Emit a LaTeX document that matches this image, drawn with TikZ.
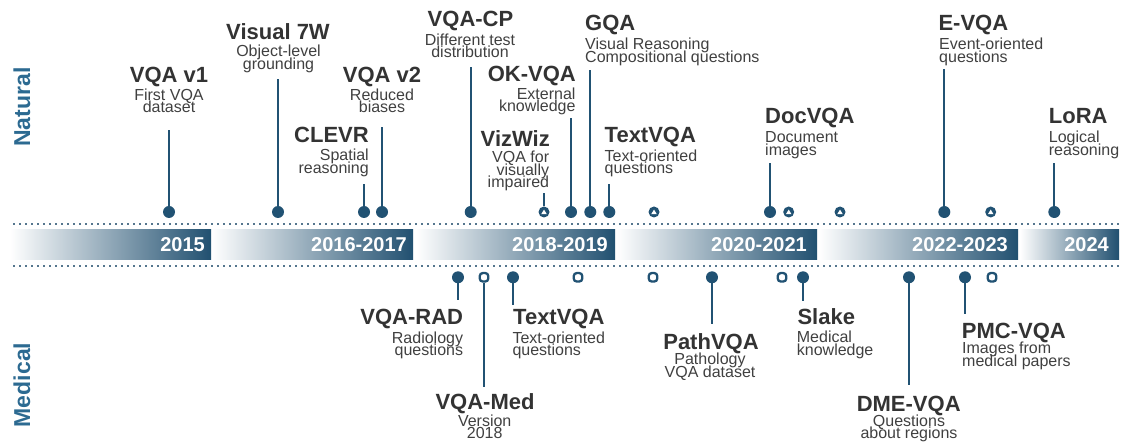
\documentclass[tikz,border=0pt]{standalone}
\usepackage{fontspec}
\setmainfont{Liberation Sans}
\definecolor{markblue}{RGB}{33,82,115}
\definecolor{barend}{RGB}{33,80,112}
\definecolor{sideblue}{RGB}{44,106,145}
\definecolor{ttlc}{RGB}{51,51,51}
\definecolor{dscc}{RGB}{64,64,64}
\definecolor{dotc}{RGB}{85,118,142}
\tikzset{
  ttl/.style={font=\fontsize{22}{22}\selectfont\bfseries, text=ttlc, inner sep=0pt},
  % descriptions: the base anchor sits on the last line, one line is 12.5pt
  dsc/.style={font=\fontsize{16}{12.5}\selectfont, text=dscc, inner sep=0pt},
  stem/.style={draw=markblue, line width=2pt},
  mdot/.style={circle, fill=markblue, inner sep=0pt, minimum size=12pt},
  mtri/.style={circle, fill=markblue, inner sep=0pt, minimum size=11pt,
    path picture={\fill[white] ([shift={(-2.8pt,-2.2pt)}]path picture bounding box.center)
      -- ++(5.6pt,0pt) -- ++(-2.8pt,4.6pt) -- cycle;}},
  msq/.style={rectangle, rounded corners=3pt, draw=markblue, line width=2.3pt, fill=white,
    inner sep=0pt, minimum size=8.5pt},
  yr/.style={font=\fontsize{20}{20}\selectfont\bfseries, text=white, inner sep=0pt, anchor=base east},
  sidelabel/.style={font=\fontsize{23}{23}\selectfont\bfseries, text=sideblue, rotate=90, inner sep=0pt},
  dotline/.style={draw=dotc, line width=1.8pt, dash pattern=on 1.8pt off 4.2pt},
  seg/.style={left color=white, right color=barend},
}
\begin{document}
\lineskiplimit=-50pt
\lineskip=0pt
\begin{tikzpicture}[x=1pt, y=-1pt]
\useasboundingbox (0,0) rectangle (1125,443);

% dotted guide lines
\coordinate (dla) at (13,224);
\coordinate (dlb) at (1120,224);
\coordinate (dlc) at (13,266);
\coordinate (dld) at (1120,266);
\draw[dotline] (dla) -- (dlb);
\draw[dotline] (dlc) -- (dld);

% period bar
\shade[seg] (10,230) rectangle (211,260);
\shade[seg] (212,230) rectangle (413,260);
\shade[seg] (416,230) rectangle (615,260);
\shade[seg] (617,230) rectangle (817,260);
\shade[seg] (819,230) rectangle (1018,260);
\shade[seg] (1020,230) rectangle (1119,260);
\node[yr] (ya) at (205,252) {2015};
\node[yr] (yb) at (407,252) {2016-2017};
\node[yr] (yc) at (608,252) {2018-2019};
\node[yr] (yd) at (807,252) {2020-2021};
\node[yr] (ye) at (1008,252) {2022-2023};
\node[yr] (yf) at (1109,252) {2024};

% side labels
\node[sidelabel] (nat) at (22,107) {Natural};
\node[sidelabel] (med) at (22,385) {Medical};

% ---------- natural-image datasets ----------
\node[ttl, anchor=base] (vaT) at (169,83) {VQA v1};
\node[dsc, anchor=base, align=center] (vaD) at (169,113) {First VQA\\dataset};
\coordinate (vaE) at (169,130);
\node[mdot] (vaM) at (169,212) {};

\node[ttl, anchor=base] (swT) at (278,40) {Visual 7W};
\node[dsc, anchor=base, align=center] (swD) at (278.5,69.5) {Object-level\\grounding};
\coordinate (swE) at (278,79);
\node[mdot] (swM) at (278,212) {};

\node[ttl, anchor=base east] (clT) at (369,143) {CLEVR};
\node[dsc, anchor=base east, align=right] (clD) at (369,173.5) {Spatial\\reasoning};
\coordinate (clE) at (364,184.5);
\node[mdot] (clM) at (364,212) {};

\node[ttl, anchor=base] (vbT) at (382,83) {VQA v2};
\node[dsc, anchor=base, align=center] (vbD) at (382,113) {Reduced\\biases};
\coordinate (vbE) at (382,127);
\node[mdot] (vbM) at (382,212) {};

\node[ttl, anchor=base] (cpT) at (470.5,27) {VQA-CP};
\node[dsc, anchor=base, align=center] (cpD) at (470,58) {Different test\\distribution};
\coordinate (cpE) at (470.7,67);
\node[mdot] (cpM) at (470.7,212) {};

\node[ttl, anchor=base east] (vwT) at (550,146.7) {VizWiz};
\node[dsc, anchor=base east, align=right] (vwD) at (549.3,188) {VQA for\\visually\\impaired};
\coordinate (vwE) at (544,193);
\node[mtri] (vwM) at (544,212) {};

\node[ttl, anchor=base east] (okT) at (576,82) {OK-VQA};
\node[dsc, anchor=base east, align=right] (okD) at (575.7,112) {External\\knowledge};
\coordinate (okE) at (571,118.3);
\node[mdot] (okM) at (571,212) {};

\node[ttl, anchor=base west] (gqT) at (585,31) {GQA};
\node[dsc, anchor=base west, align=left] (gqD) at (585,62.5) {Visual Reasoning\\Compositional questions};
\coordinate (gqE) at (590.3,70);
\node[mdot] (gqM) at (590.3,212) {};

\node[ttl, anchor=base west] (tnT) at (604.5,142.7) {TextVQA};
\node[dsc, anchor=base west, align=left] (tnD) at (604.5,174) {Text-oriented\\questions};
\coordinate (tnE) at (609.3,184.5);
\node[mdot] (tnM) at (609.3,212) {};

\node[mtri] (xa) at (654,212) {};

\node[ttl, anchor=base west] (dcT) at (765,124) {DocVQA};
\node[dsc, anchor=base west, align=left] (dcD) at (765,155.2) {Document\\images};
\coordinate (dcE) at (770,162.7);
\node[mdot] (dcM) at (770,212) {};

\node[mtri] (xb) at (788.7,212) {};
\node[mtri] (xc) at (840,212) {};

\node[ttl, anchor=base west] (evT) at (938.3,31) {E-VQA};
\node[dsc, anchor=base west, align=left] (evD) at (939,62.5) {Event-oriented\\questions};
\coordinate (evE) at (944.3,69.3);
\node[mdot] (evM) at (944.3,212) {};

\node[mtri] (xd) at (990.7,212) {};

\node[ttl, anchor=base west] (lrT) at (1048.7,124) {LoRA};
\node[dsc, anchor=base west, align=left] (lrD) at (1048.7,155.5) {Logical\\reasoning};
\coordinate (lrE) at (1054.3,163);
\node[mdot] (lrM) at (1054.3,212) {};

% ---------- medical datasets ----------
\node[ttl, anchor=base east] (raT) at (463.3,325) {VQA-RAD};
\node[dsc, anchor=base east, align=right] (raD) at (463.3,356) {Radiology\\questions};
\coordinate (raE) at (458,300);
\node[mdot] (raM) at (458,277.3) {};

\node[ttl, anchor=base] (mdT) at (485,410) {VQA-Med};
\node[dsc, anchor=base, align=center] (mdD) at (484.7,438.7) {Version\\2018};
\coordinate (mdE) at (484,386.7);
\node[msq] (mdM) at (484,277.3) {};

\node[ttl, anchor=base west] (tmT) at (513,325) {TextVQA};
\node[dsc, anchor=base west, align=left] (tmD) at (512.3,356) {Text-oriented\\questions};
\coordinate (tmE) at (513,305);
\node[mdot] (tmM) at (513,277.3) {};

\node[msq] (xe) at (578,277.3) {};
\node[msq] (xf) at (653,277.3) {};

\node[ttl, anchor=base] (paT) at (711,350) {PathVQA};
\node[dsc, anchor=base, align=center] (paD) at (710,377.5) {Pathology\\VQA dataset};
\coordinate (paE) at (712,324);
\node[mdot] (paM) at (712,277.3) {};

\node[msq] (xg) at (782,277.3) {};

\node[ttl, anchor=base west] (skT) at (797.3,325) {Slake};
\node[dsc, anchor=base west, align=left] (skD) at (796.7,355.2) {Medical\\knowledge};
\coordinate (skE) at (803,300.7);
\node[mdot] (skM) at (803,277.3) {};

\node[ttl, anchor=base] (dmT) at (908.7,411.7) {DME-VQA};
\node[dsc, anchor=base, align=center] (dmD) at (909,439) {Questions\\about regions};
\coordinate (dmE) at (909,385);
\node[mdot] (dmM) at (909,277.3) {};

\node[ttl, anchor=base west] (pmT) at (961.7,338.3) {PMC-VQA};
\node[dsc, anchor=base west, align=left] (pmD) at (962,366.3) {Images from\\medical papers};
\coordinate (pmE) at (965,314.3);
\node[mdot] (pmM) at (965,277.3) {};

\node[msq] (xh) at (992,277.3) {};

% stems from each marker to the end below or above its label
\foreach \m/\e in {vaM/vaE, swM/swE, clM/clE, vbM/vbE, cpM/cpE, vwM/vwE, okM/okE, gqM/gqE,
  tnM/tnE, dcM/dcE, evM/evE, lrM/lrE, raM/raE, mdM/mdE, tmM/tmE, paM/paE, skM/skE,
  dmM/dmE, pmM/pmE}
  \draw[stem] (\m) -- (\e);
\end{tikzpicture}
\end{document}
